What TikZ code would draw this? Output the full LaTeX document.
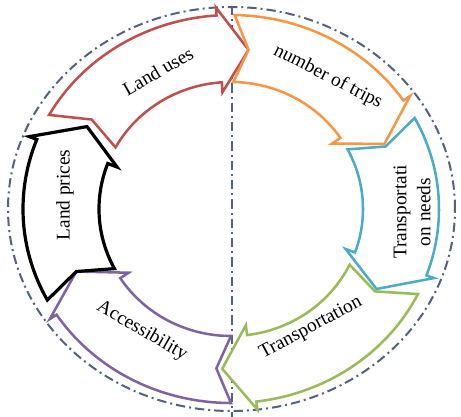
\documentclass[tikz,border=0pt]{standalone}
\usepackage{fontspec}
\setmainfont{Liberation Serif}
\definecolor{ringblue}{HTML}{52637E}
\definecolor{cred}{HTML}{C0504D}
\definecolor{corange}{HTML}{F79646}
\definecolor{ccyan}{HTML}{4BACC6}
\definecolor{cgreen}{HTML}{9BBB59}
\definecolor{cpurple}{HTML}{8064A2}
\tikzset{
ring/.style={ringblue,line width=1.5pt,dash pattern=on 7pt off 3pt on 1.5pt off 3pt},
cyc/.style={line width=1.9pt,fill=white,line join=miter},
lbl/.style={font=\fontsize{14.5}{18}\selectfont,align=center}
}
% curved arrow: colour, tail angle, tip angle
\newcommand\cycarrow[3]{%
\draw[cyc,draw=#1] ({208*cos(#2)},{194*sin(#2)})
 arc[start angle=#2,end angle=#3+10,x radius=208,y radius=194]
 -- ({216*cos(#3+10)},{202*sin(#3+10)})
 -- ({168*cos(#3)},{160*sin(#3)})
 -- ({122*cos(#3+10)},{117*sin(#3+10)})
 -- ({132*cos(#3+10)},{127*sin(#3+10)})
 arc[start angle=#3+10,end angle=#2,x radius=132,y radius=127]
 -- ({168*cos(#2-5)},{160*sin(#2-5)}) -- cycle;}
\begin{document}
\begin{tikzpicture}[x=0.75pt,y=0.75pt]
\useasboundingbox (-231,-208) rectangle (230,209);
\draw[ring] (0.5,0) ellipse[x radius=223.5,y radius=202];
\draw[ring] (1,203) -- (1,-208);
\cycarrow{cred}{151}{84}
\cycarrow{corange}{89}{24}
\cycarrow{ccyan}{28}{-30}
\cycarrow{cgreen}{-26}{-93}
\cycarrow{cpurple}{270}{203}
\begin{scope}[cyc/.append style={line width=2.4pt}]
\cycarrow{black}{208}{149}
\end{scope}
\node[lbl,rotate=30] (uses) at (-73,138) {Land uses};
\node[lbl,rotate=-27] (trips) at (97,132) {number of trips};
\node[lbl,rotate=90] (needs) at (181,-3) {Transportati\\on needs};
\node[lbl,rotate=28] (transp) at (80,-119) {Transportation};
\node[lbl,rotate=-30] (access) at (-89,-122) {Accessibility};
\node[lbl,rotate=90] (prices) at (-166,14) {Land prices};
\end{tikzpicture}
\end{document}
